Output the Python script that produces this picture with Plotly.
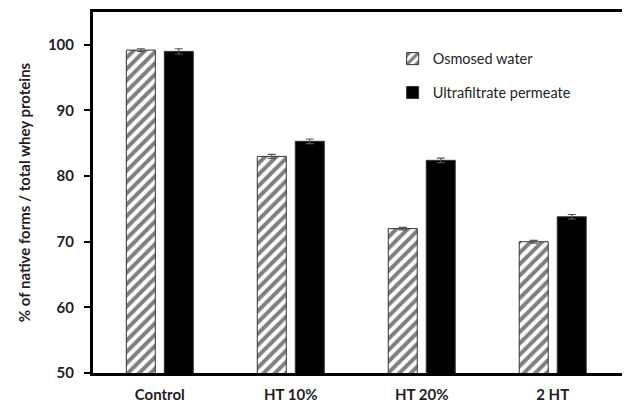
import plotly.graph_objects as go

categories = ["Control", "HT 10%", "HT 20%", "2 HT"]
osmosed = [99.2, 83.0, 72.0, 70.0]
osmosed_err = [0.2, 0.3, 0.2, 0.2]
ultrafiltrate = [99.0, 85.3, 82.4, 73.8]
ultrafiltrate_err = [0.4, 0.35, 0.35, 0.35]
y_ticks = [50, 60, 70, 80, 90, 100]

font_family = "Lato, 'Open Sans', sans-serif"
text_color = "#1e1e1e"

fig = go.Figure()
fig.add_trace(go.Bar(
    name="Osmosed water", x=categories, y=osmosed,
    error_y=dict(type="data", array=osmosed_err, color="#555555", thickness=1.2, width=4),
    marker=dict(color="white", line=dict(color="#333333", width=1),
                pattern=dict(shape="/", fgcolor="black", bgcolor="white", size=8, solidity=0.5)),
    legendgroup="a",
))
fig.add_trace(go.Bar(
    name="Ultrafiltrate permeate", x=categories, y=ultrafiltrate,
    error_y=dict(type="data", array=ultrafiltrate_err, color="#555555", thickness=1.2, width=4),
    marker=dict(color="black", line=dict(color="#333333", width=1)),
    legendgroup="b",
))

fig.update_layout(
    width=622, height=397,
    margin=dict(l=85, r=0, t=4, b=32),
    paper_bgcolor="white", plot_bgcolor="white",
    barmode="group", bargap=0.42, bargroupgap=0.237,
    font=dict(family=font_family, color=text_color, size=14),
    showlegend=True,
    legend=dict(x=0.558, y=0.915, xanchor="left", yanchor="top",
                bgcolor="rgba(0,0,0,0)", traceorder="grouped", tracegroupgap=12,
                font=dict(size=14.5, color=text_color), itemwidth=30),
    xaxis=dict(
        type="category", range=[-0.51, 3.59],
        showline=True, linecolor="black", linewidth=3, mirror=True,
        ticks="", showgrid=False, ticklabelstandoff=6,
        tickfont=dict(size=15, family=font_family, weight="bold"),
    ),
    yaxis=dict(
        range=[50, 105], tickvals=y_ticks,
        showline=True, linecolor="black", linewidth=3,
        ticks="outside", ticklen=6, tickwidth=1.5, tickcolor="black",
        showgrid=False, zeroline=False, ticklabelstandoff=7,
        tickfont=dict(size=15, family=font_family, weight="bold"),
        title=dict(text="% of native forms / total whey proteins",
                   font=dict(size=15, family=font_family, weight="bold"), standoff=14),
    ),
)

fig.write_html("out.html")
